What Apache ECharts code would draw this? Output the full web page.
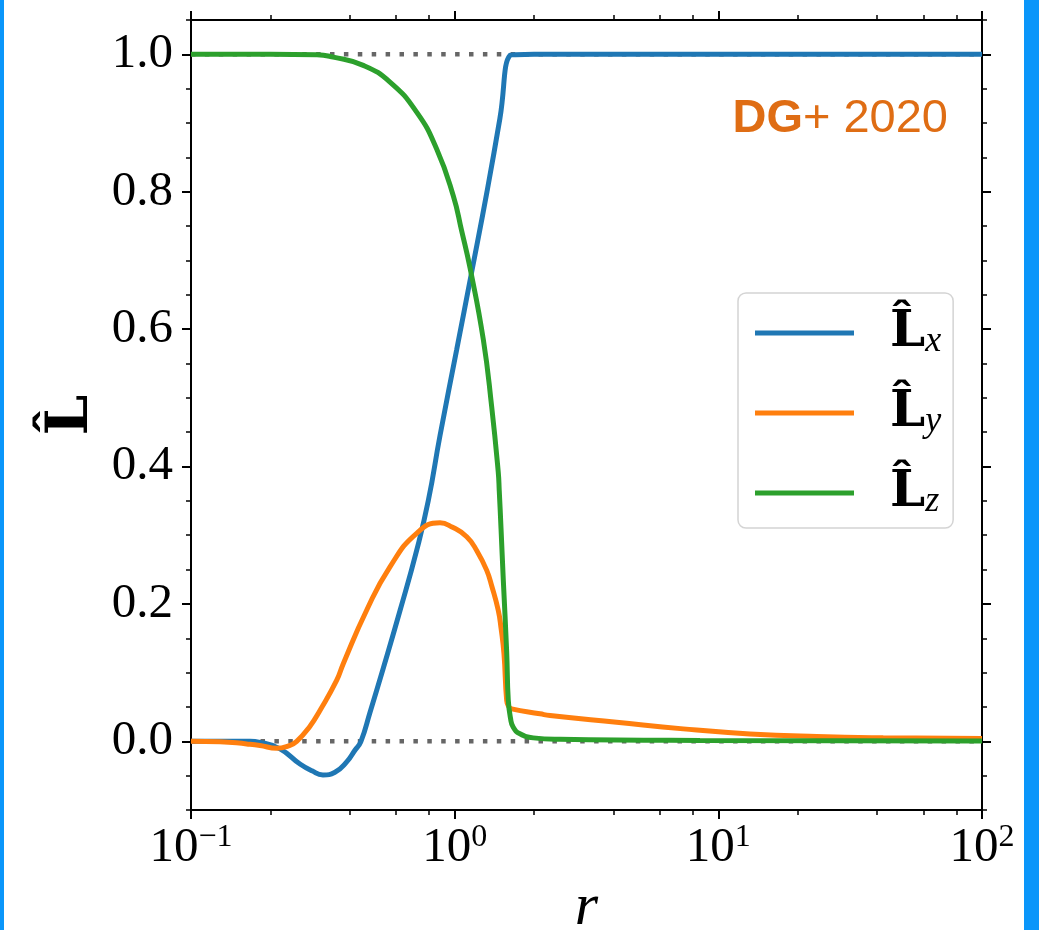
<!DOCTYPE html>
<html><head><meta charset="utf-8">
<script src="https://cdn.jsdelivr.net/npm/echarts@6/dist/echarts.min.js"></script>
<style>html,body{margin:0;padding:0;background:#fff}#c{width:1039px;height:930px}</style>
</head><body><div id="c"></div>
<script>
// ---- data ----
const lxR = [0.1, 0.15, 0.1674, 0.1827, 0.2175, 0.259, 0.2876, 0.3166, 0.3516, 0.3895, 0.4185, 0.4412, 0.4773, 0.5347, 0.6202, 0.7176, 0.7941, 0.8798, 1.0176, 1.16, 1.326, 1.485, 1.621, 1.7, 2, 5, 20, 100];
const lxV = [0, 0, 0, -0.0015, -0.011, -0.033, -0.043, -0.049, -0.045, -0.030, -0.013, 0, 0.042, 0.105, 0.19, 0.278, 0.35, 0.445, 0.57, 0.683, 0.80, 0.907, 0.9985, 0.9995, 1.0, 1.0, 1.0, 1.0];

const lyR = [0.1, 0.1288, 0.1626, 0.1827, 0.2113, 0.2332, 0.2517, 0.2827, 0.3084, 0.3567, 0.378, 0.4636, 0.5684, 0.7176, 0.8798, 0.9768, 1.111, 1.215, 1.322, 1.385, 1.463, 1.499, 1.538, 1.575, 1.6, 1.645, 2.107, 2.299, 4.115, 7.362, 13.18, 23.6, 42.2, 100];
const lyV = [0, -0.0005, -0.0038, -0.006, -0.0102, -0.007, 0.0, 0.022, 0.045, 0.0886, 0.113, 0.1908, 0.254, 0.3028, 0.318, 0.312, 0.2978, 0.277, 0.2492, 0.225, 0.1908, 0.165, 0.1276, 0.0594, 0.051, 0.0473, 0.040, 0.0375, 0.0277, 0.0181, 0.0108, 0.0069, 0.005, 0.004];

const lzR = [0.1, 0.2, 0.3005, 0.3464, 0.4501, 0.5684, 0.7176, 0.8545, 0.9879, 1.063, 1.143, 1.284, 1.381, 1.463, 1.476, 1.499, 1.529, 1.575, 1.597, 1.628, 1.668, 1.768, 1.987, 2.507, 8.516, 100];
const lzV = [1.0, 1.0, 0.9995, 0.996, 0.984, 0.9597, 0.9159, 0.8623, 0.7942, 0.743, 0.6896, 0.585, 0.4876, 0.392, 0.365, 0.31, 0.235, 0.13, 0.06, 0.034, 0.0204, 0.011, 0.005, 0.003, 0.0012, 0.0003];

const refR = [0.1, 100];
const refZeroV = [0, 0];
const refOneV = [1, 1];

const seriesNames = ['Lx', 'Ly', 'Lz'];
const subscripts = ['x', 'y', 'z'];
const seriesColors = ['#1f77b4', '#ff7f0e', '#2ca02c'];

const xMajorTicks = [0.1, 1, 10, 100];
const xMinorTicks = [0.2, 0.4, 0.6, 0.8, 2, 4, 6, 8, 20, 40, 60, 80];
const yMajorTicks = [0, 0.2, 0.4, 0.6, 0.8, 1.0];

const annotation = ['DG', '+ 2020'];
// -----------------------------------------

function pairs(r, v) { return r.map((x, i) => [x, v[i]]); }

const serif = 'Liberation Serif';
const black = '#000';

function xLabel(v) {
  const e = Math.round(Math.log10(v));
  return '{b|10}{s|' + (e < 0 ? '\u2212' + (-e) : String(e)) + '}';
}

const xBase = { type: 'log', logBase: 10, min: 0.1, max: 100, gridIndex: 0, splitLine: { show: false } };
const yBase = { type: 'value', min: -0.1, max: 1.05, gridIndex: 0, splitLine: { show: false } };
const majorTick = { show: true, inside: false, length: 9, lineStyle: { color: black, width: 2 } };
const minorTick = { show: true, inside: false, length: 5, lineStyle: { color: black, width: 1.5 } };
const spine = { show: true, onZero: false, lineStyle: { color: black, width: 2 } };
const noLine = { show: false, onZero: false };

function curve(i, r, v) {
  return { name: seriesNames[i], type: 'line', data: pairs(r, v), smooth: 0.5,
    showSymbol: false, symbol: 'none', z: 2 + i, color: seriesColors[i],
    lineStyle: { color: seriesColors[i], width: 5 } };
}

const option = {
  animation: false,
  backgroundColor: '#fff',
  grid: { left: 191, right: 57, top: 20, bottom: 120, containLabel: false, outerBoundsMode: 'none' },
  xAxis: [
    Object.assign({}, xBase, {
      position: 'bottom', axisLine: spine,
      axisTick: Object.assign({}, majorTick, { customValues: xMajorTicks }),
      axisLabel: {
        show: true, customValues: xMajorTicks, margin: 12, formatter: xLabel,
        rich: {
          b: { fontFamily: serif, fontSize: 49, lineHeight: 52, color: black },
          s: { fontFamily: serif, fontSize: 32, lineHeight: 30, verticalAlign: 'top', color: black }
        }
      },
      name: 'r', nameLocation: 'middle', nameGap: 68,
      nameTextStyle: { fontFamily: serif, fontStyle: 'italic', fontSize: 60, color: black }
    }),
    Object.assign({}, xBase, { position: 'bottom', axisLine: noLine,
      axisTick: Object.assign({}, minorTick, { customValues: xMinorTicks }), axisLabel: { show: false } }),
    Object.assign({}, xBase, { position: 'top', axisLine: spine,
      axisTick: Object.assign({}, majorTick, { customValues: xMajorTicks }), axisLabel: { show: false } }),
    Object.assign({}, xBase, { position: 'top', axisLine: noLine,
      axisTick: Object.assign({}, minorTick, { customValues: xMinorTicks }), axisLabel: { show: false } })
  ],
  yAxis: [
    Object.assign({}, yBase, {
      position: 'left', axisLine: spine,
      axisTick: Object.assign({}, majorTick, { customValues: yMajorTicks }),
      axisLabel: { show: true, customValues: yMajorTicks, margin: 18, formatter: v => v.toFixed(1),
        fontFamily: serif, fontSize: 49, color: black },
      name: 'L\u0302', nameLocation: 'middle', nameGap: 88, nameRotate: 90,
      nameTextStyle: { fontFamily: 'DejaVu Serif', fontWeight: 'bold', fontSize: 58, color: black }
    }),
    Object.assign({}, yBase, { position: 'left', interval: 0.05, axisLine: noLine,
      axisTick: minorTick, axisLabel: { show: false } }),
    Object.assign({}, yBase, { position: 'right', axisLine: spine,
      axisTick: Object.assign({}, majorTick, { customValues: yMajorTicks }), axisLabel: { show: false } }),
    Object.assign({}, yBase, { position: 'right', interval: 0.05, axisLine: noLine,
      axisTick: minorTick, axisLabel: { show: false } })
  ],
  legend: {
    data: seriesNames, orient: 'vertical', left: 738, top: 293,
    padding: [15, 12, 8, 17], itemWidth: 99, itemHeight: 5, itemGap: 28, icon: 'rect',
    backgroundColor: '#fff', borderColor: '#d4d4d4', borderWidth: 1.5, borderRadius: 8,
    formatter: name => '{L|L\u0302}{s|' + subscripts[seriesNames.indexOf(name)] + '}',
    textStyle: {
      rich: {
        L: { fontFamily: 'DejaVu Serif', fontWeight: 'bold', fontSize: 50, lineHeight: 54, color: black, padding: [0, 0, 0, 31] },
        s: { fontFamily: serif, fontStyle: 'italic', fontSize: 36, lineHeight: 34, verticalAlign: 'bottom', color: black }
      }
    }
  },
  series: [
    { name: 'ref0', type: 'line', data: pairs(refR, refZeroV), showSymbol: false, symbol: 'none', silent: true, z: 1,
      lineStyle: { color: '#666', width: 4.5, type: [4.5, 9.4], cap: 'butt' } },
    { name: 'ref1', type: 'line', data: pairs(refR, refOneV), showSymbol: false, symbol: 'none', silent: true, z: 1,
      lineStyle: { color: '#666', width: 4.5, type: [4.5, 9.4], cap: 'butt' } },
    curve(0, lxR, lxV),
    curve(1, lyR, lyV),
    curve(2, lzR, lzV)
  ],
  graphic: [
    { type: 'rect', shape: { x: 0, y: 0, width: 4, height: 930 }, style: { fill: '#0a96fa' }, z: 100 },
    { type: 'rect', shape: { x: 1024, y: 0, width: 15, height: 930 }, style: { fill: '#0a96fa' }, z: 100 },
    { type: 'text', x: 948, y: 119, z: 100,
      style: { text: '{b|' + annotation[0] + '}{n|' + annotation[1] + '}', align: 'right', verticalAlign: 'middle',
        rich: {
          b: { fontFamily: 'Liberation Sans', fontWeight: 'bold', fontSize: 47, fill: '#df6d14', color: '#df6d14' },
          n: { fontFamily: 'Liberation Sans', fontSize: 47, fill: '#df6d14', color: '#df6d14' }
        } } }
  ]
};

const chart = echarts.init(document.getElementById('c'), null, { renderer: 'canvas' });
chart.setOption(option);
</script>
</body></html>
